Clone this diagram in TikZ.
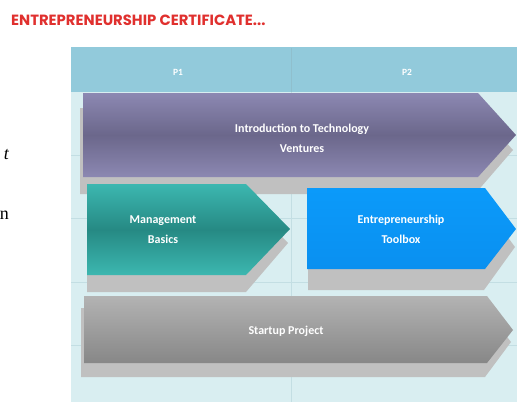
\documentclass[tikz,border=0pt]{standalone}
\usepackage{fontspec}
\newfontfamily\calfont{Carlito}
\newfontfamily\titlefont{Poppins}
\newfontfamily\serfont{Liberation Serif}
\definecolor{titlered}{HTML}{E0302E}
\definecolor{headblue}{HTML}{92CADB}
\definecolor{bodycyan}{HTML}{D9EEF1}
\definecolor{gridline}{HTML}{C3DEE3}
\definecolor{shadowgray}{HTML}{C0C0C0}
\definecolor{purpleedge}{HTML}{8C88B2}
\definecolor{purplemid}{HTML}{6B678B}
\definecolor{tealedge}{HTML}{3CB7B0}
\definecolor{tealmid}{HTML}{268984}
\definecolor{blueedge}{HTML}{0B9AFA}
\definecolor{bluemid}{HTML}{0A90F0}
\definecolor{graytop}{HTML}{B3B3B3}
\definecolor{graybot}{HTML}{878787}
\begin{document}
\begin{tikzpicture}[x=1pt,y=-1pt,
  shadowshape/.style={fill=shadowgray},
  label/.style={text=white,font=\calfont\bfseries\fontsize{12}{20}\selectfont,align=center,inner sep=0pt},
  headlabel/.style={text=white,font=\calfont\bfseries\fontsize{9.5}{10}\selectfont,inner sep=0pt},
  grid/.style={draw=gridline,line width=0.8pt}]
\useasboundingbox (0,0) rectangle (517,402);
\fill[white] (0,0) rectangle (517,402);
% title
\node[anchor=west,inner sep=0pt,text=titlered,font=\titlefont\bfseries\fontsize{14.8}{16}\selectfont] (title) at (11,20) {ENTREPRENEURSHIP CERTIFICATE...};
% cut-off side text
\node[anchor=east,inner sep=0pt,font=\serfont\itshape\fontsize{18}{18}\selectfont] (sidet) at (9,155) {t};
\node[anchor=east,inner sep=0pt,font=\serfont\fontsize{18}{18}\selectfont] (siden) at (9,215) {n};
% table
\fill[bodycyan] (71,47) rectangle (517,402);
\fill[headblue] (71,47) rectangle (517,92);
\draw[grid] (291,92) -- (291,402);
\draw[draw=headblue!85!gray,line width=0.6pt] (291,48) -- (291,92);
\foreach \yy in {155,218,282,345} \draw[grid] (71,\yy) -- (517,\yy);
\node[headlabel] (p1) at (178,72) {P1};
\node[headlabel] (p2) at (407,72) {P2};
% purple arrow
\fill[shadowshape] (80,108) -- (475,108) -- (513,150) -- (475,194) -- (80,194) -- cycle;
\shade[top color=purpleedge,bottom color=purpleedge,middle color=purplemid] (83,93) -- (478,93) -- (516,135) -- (478,177) -- (83,177) -- cycle;
\node[label] (intro) at (302,138) {Introduction to Technology\\Ventures};
% teal arrow
\fill[shadowshape] (87,199) -- (246,199) -- (288,243) -- (246,292) -- (87,292) -- cycle;
\shade[top color=tealedge,bottom color=tealedge,middle color=tealmid] (87,184) -- (246,184) -- (290,229) -- (246,275) -- (87,275) -- cycle;
\node[label] (mgmt) at (163,230) {Management\\Basics};
% blue arrow
\fill[shadowshape] (308,205) -- (484,205) -- (515,247) -- (484,290) -- (308,290) -- cycle;
\shade[top color=blueedge,bottom color=bluemid] (307,188) -- (485,188) -- (516,229) -- (485,269) -- (307,269) -- cycle;
\node[label] (tool) at (401,229) {Entrepreneurship\\Toolbox};
% gray arrow
\fill[shadowshape] (81,308) -- (485,308) -- (511,342) -- (485,377) -- (81,377) -- cycle;
\shade[top color=graytop,bottom color=graybot] (84,296) -- (487,296) -- (513,330) -- (487,363) -- (84,363) -- cycle;
\node[label] (startup) at (286,331) {Startup Project};
\end{tikzpicture}
\end{document}
